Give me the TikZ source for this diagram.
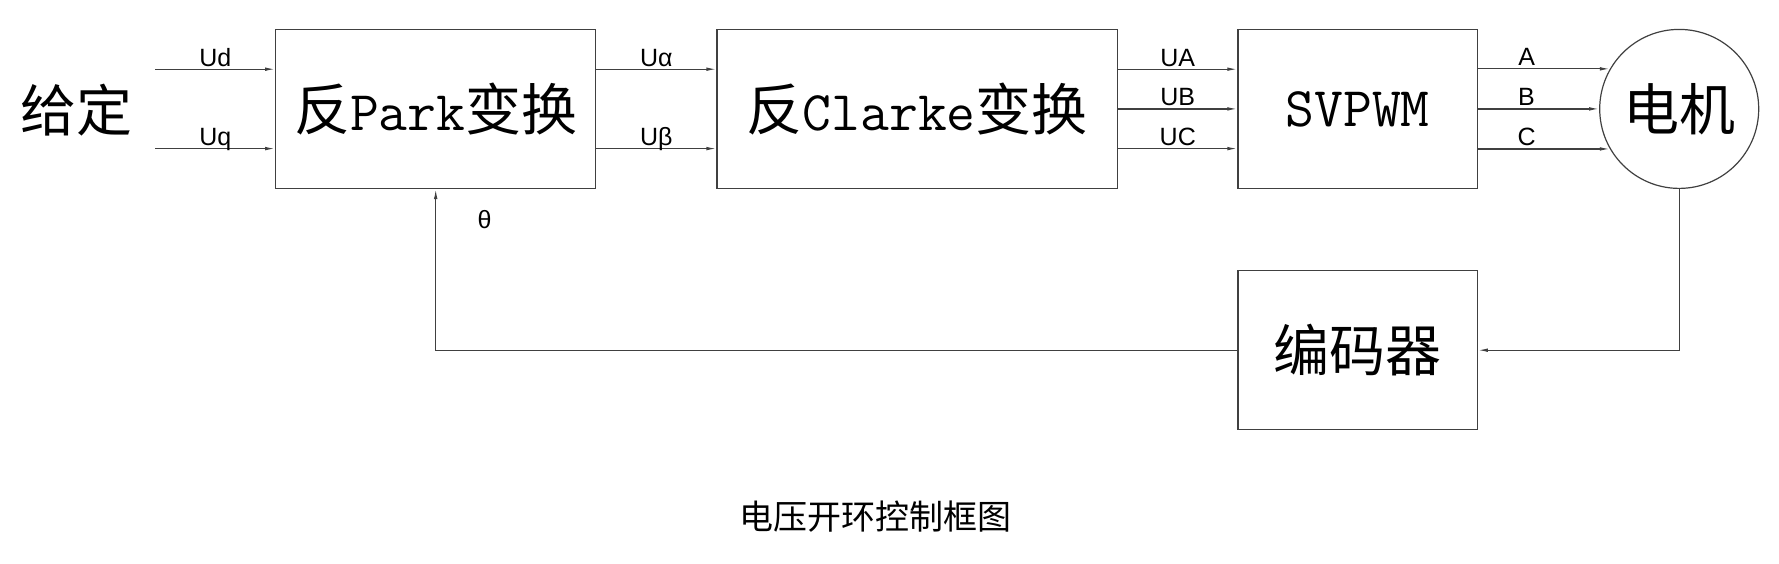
\documentclass[tikz,border=0pt]{standalone}
\usepackage{fontspec}
\setmainfont{Noto Sans CJK SC}
\setsansfont{Liberation Sans}
\usepackage{tikz}
\usetikzlibrary{arrows.meta, positioning, calc}
\tikzset{
  blockbox/.style={
    rectangle, draw=black!75, line width=1.2pt,
    minimum width=#1, minimum height=159pt, inner sep=0pt,
    text centered, font=\fontsize{56}{60}\selectfont
  },
  blockbox/.default=320pt,
  motornode/.style={
    circle, draw=black!75, line width=1.2pt,
    minimum size=159pt, inner sep=0pt,
    font=\fontsize{56}{60}\selectfont
  },
  siglabel/.style={
    font=\sffamily\fontsize{25}{28}\selectfont,
    anchor=base, yshift=3pt, inner sep=0pt
  },
}

\begin{document}
\begin{tikzpicture}[
      x=1pt, y=-1pt,
      arr/.style={-{Latex[length=10pt,width=3.6pt]}, line width=1.2pt, draw=black!75}
    ]
    \useasboundingbox (0,0) rectangle (1779,563);

    \node[font=\fontsize{56}{60}\selectfont] (given) at (76,110) {给定};

    \node[blockbox=320pt]   (park)   at (435.7,108.9) {反\texttt{Park}变换};
    \node[blockbox=400.6pt] (clarke) at (917.3,108.9) {反\texttt{Clarke}变换};
    \node[blockbox=239.4pt] (svpwm)  at (1357.6,108.9) {\texttt{SVPWM}};
    \node[motornode]        (motor)  at (1679.2,108.9) {电机};
    \node[blockbox=239.4pt] (enc)    at (1357.6,350.2) {编码器};

    \node[font=\fontsize{34}{38}\selectfont] (title) at (875,517) {电压开环控制框图};

    % given inputs
    \coordinate (ud) at (155.4,69.2);
    \coordinate (uq) at (155.4,148.6);
    \draw[arr] (ud) -- (ud -| park.west) node[siglabel, midway] {Ud};
    \draw[arr] (uq) -- (uq -| park.west) node[siglabel, midway] {Uq};

    % park -> clarke
    \draw[arr] (park.east |- ud) -- (clarke.west |- ud) node[siglabel, midway] {Uα};
    \draw[arr] (park.east |- uq) -- (clarke.west |- uq) node[siglabel, midway] {Uβ};

    % clarke -> svpwm
    \draw[arr] (clarke.east |- ud) -- (svpwm.west |- ud) node[siglabel, midway] {UA};
    \draw[arr] (clarke.east) -- (svpwm.west) node[siglabel, midway] {UB};
    \draw[arr] (clarke.east |- uq) -- (svpwm.west |- uq) node[siglabel, midway] {UC};

    % svpwm -> motor
    \draw[arr] (svpwm.east |- motor.150) -- (motor.150) node[siglabel, pos=0.37] {A};
    \draw[arr] (svpwm.east) -- (motor.west) node[siglabel, pos=0.4] {B};
    \draw[arr] (svpwm.east |- motor.210) -- (motor.210) node[siglabel, pos=0.37] {C};

    % feedback
    \draw[arr] (motor.south) |- (enc.east);
    \draw[arr] (enc.west) -| (park.south);
    \node[font=\sffamily\fontsize{25}{28}\selectfont] (theta) at (484.5,220) {θ};

  \end{tikzpicture}
\end{document}
